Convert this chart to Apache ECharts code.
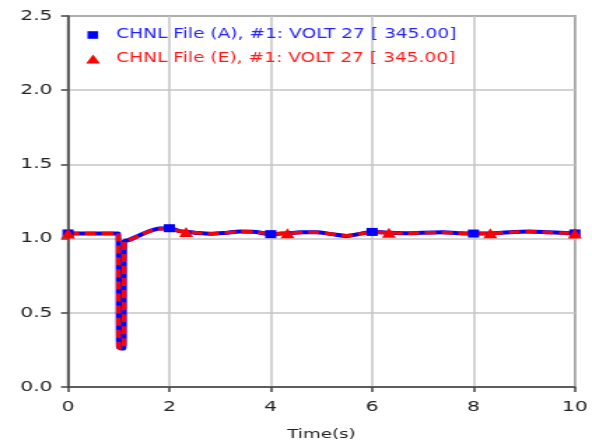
<!DOCTYPE html>
<html>
<head>
<meta charset="utf-8">
<script src="https://cdn.jsdelivr.net/npm/echarts@6/dist/echarts.min.js"></script>
<style>
html,body{margin:0;padding:0;background:#fff;overflow:hidden;}
#wrap{width:592px;height:446px;overflow:hidden;}
#chart{width:423px;height:446px;transform:scaleX(1.3995);transform-origin:0 0;}
</style>
</head>
<body>
<div id="wrap"><div id="chart"></div></div>
<script>
// ---- data ----
var timeA = [0, 0.5, 0.99, 1.0, 1.05, 1.1, 1.11, 1.2, 1.4, 1.6, 1.8, 2.0, 2.2, 2.5, 2.8, 3.1, 3.4, 3.7, 4.0, 4.3, 4.6, 4.9, 5.2, 5.5, 5.8, 6.0, 6.3, 6.7, 7.0, 7.4, 7.7, 8.0, 8.4, 8.8, 9.1, 9.5, 10];
var voltA = [1.035, 1.035, 1.035, 0.27, 0.26, 0.26, 0.98, 0.99, 1.02, 1.05, 1.068, 1.07, 1.05, 1.04, 1.032, 1.038, 1.048, 1.045, 1.03, 1.035, 1.042, 1.043, 1.03, 1.018, 1.035, 1.045, 1.04, 1.036, 1.04, 1.042, 1.036, 1.034, 1.036, 1.045, 1.048, 1.042, 1.035];
var timeE = [0, 0.5, 0.99, 1.0, 1.05, 1.1, 1.11, 1.2, 1.4, 1.6, 1.8, 2.0, 2.2, 2.5, 2.8, 3.1, 3.4, 3.7, 4.0, 4.3, 4.6, 4.9, 5.2, 5.5, 5.8, 6.0, 6.3, 6.7, 7.0, 7.4, 7.7, 8.0, 8.4, 8.8, 9.1, 9.5, 10];
var voltE = [1.035, 1.035, 1.035, 0.27, 0.26, 0.26, 0.98, 0.99, 1.02, 1.048, 1.065, 1.068, 1.05, 1.04, 1.033, 1.038, 1.046, 1.044, 1.032, 1.036, 1.041, 1.042, 1.031, 1.02, 1.034, 1.043, 1.04, 1.036, 1.039, 1.041, 1.036, 1.035, 1.036, 1.044, 1.046, 1.041, 1.035];
var markTimeA = [0, 2, 4, 6, 8, 10];
var markVoltA = [1.035, 1.07, 1.03, 1.045, 1.034, 1.035];
var markTimeE = [0, 2.33, 4.33, 6.33, 8.33, 10];
var markVoltE = [1.035, 1.045, 1.036, 1.04, 1.036, 1.035];
var nameA = 'CHNL File (A), #1: VOLT 27 [ 345.00]';
var nameE = 'CHNL File (E), #1: VOLT 27 [ 345.00]';
var xTicks = [0, 10, 2];
var yTicks = [0, 2.5, 0.5];

function pairs(t, v) { return t.map(function (x, i) { return [x, v[i]]; }); }

var chart = echarts.init(document.getElementById('chart'), null, {renderer: 'canvas', width: 423, height: 446});
var FONT = 'DejaVu Sans';
chart.setOption({
  animation: false,
  backgroundColor: '#fff',
  grid: {left: 48.6, top: 16, right: 5.6, bottom: 55, show: true, borderColor: '#444', borderWidth: 1.5},
  legend: {
    orient: 'vertical', left: 56, top: 23, itemGap: 10,
    itemWidth: 17, itemHeight: 10,
    textStyle: {fontFamily: FONT, fontSize: 13.3, lineHeight: 14},
    data: [
      {name: nameA, icon: 'path://M0,0M17,10M1.5,1.2h7.6v7.6h-7.6z', itemStyle: {color: '#0000ff'}, textStyle: {color: '#2424ff'}},
      {name: nameE, icon: 'path://M0,0M17,10M5.5,0.5L10.5,9.5L0.5,9.5z', itemStyle: {color: '#ff0000'}, textStyle: {color: '#ff1a1a'}}
    ]
  },
  xAxis: {
    type: 'value', min: xTicks[0], max: xTicks[1], interval: xTicks[2],
    name: 'Time(s)', nameLocation: 'middle', nameGap: 41,
    nameTextStyle: {fontFamily: FONT, fontSize: 13, color: '#222'},
    axisLine: {show: true, lineStyle: {color: '#444', width: 1.5}},
    axisTick: {show: true, length: 5, lineStyle: {color: '#444', width: 1.5}},
    axisLabel: {fontFamily: FONT, fontSize: 14.5, color: '#222', margin: 13},
    splitLine: {show: true, lineStyle: {color: '#c4c4c4', width: 1.5}}
  },
  yAxis: {
    type: 'value', min: yTicks[0], max: yTicks[1], interval: yTicks[2],
    axisLine: {show: true, lineStyle: {color: '#444', width: 1.5}},
    axisTick: {show: true, length: 5, lineStyle: {color: '#444', width: 1.5}},
    axisLabel: {fontFamily: FONT, fontSize: 14.5, color: '#222', margin: 11, formatter: function (v) { return v.toFixed(1); }},
    splitLine: {show: true, lineStyle: {color: '#c4c4c4', width: 1.5}}
  },
  series: [
    {name: nameA, type: 'line', data: pairs(timeA, voltA), showSymbol: false, symbol: 'none', smooth: 0.3,
     lineStyle: {color: '#0000ff', width: 4}, itemStyle: {color: '#0000ff'}, z: 2},
    {name: nameE, type: 'line', data: pairs(timeE, voltE), showSymbol: false, symbol: 'none', smooth: 0.3,
     lineStyle: {color: '#ff0000', width: 3.3, type: [8, 4]}, itemStyle: {color: '#ff0000'}, z: 3},
    {name: nameA, type: 'scatter', data: pairs(markTimeA, markVoltA), symbol: 'rect', symbolSize: [8, 8],
     itemStyle: {color: '#0000ff', opacity: 1}, z: 4},
    {name: nameE, type: 'scatter', data: pairs(markTimeE, markVoltE), symbol: 'triangle', symbolSize: [10, 10],
     itemStyle: {color: '#ff0000', opacity: 1}, z: 5}
  ]
});
</script>
</body>
</html>
